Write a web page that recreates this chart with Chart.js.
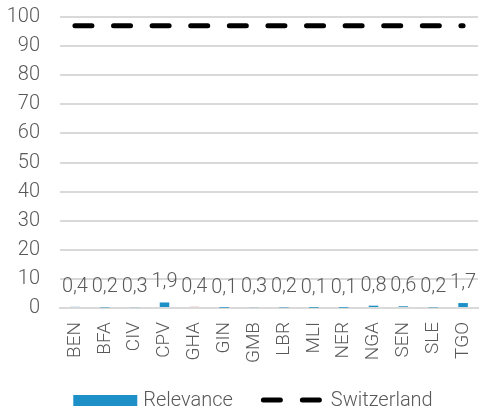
<!DOCTYPE html>
<html>
<head>
<meta charset="utf-8">
<script src="https://cdn.jsdelivr.net/npm/chart.js@4"></script>
<style>
  html, body { margin: 0; padding: 0; background: #fff; }
  #wrap { width: 479px; height: 411px; }
</style>
</head>
<body>
<div id="wrap"><canvas id="myChart" width="479" height="411"></canvas></div>
<script>
const countries = ['BEN', 'BFA', 'CIV', 'CPV', 'GHA', 'GIN', 'GMB', 'LBR', 'MLI', 'NER', 'NGA', 'SEN', 'SLE', 'TGO'];
const relevance = [0.4, 0.2, 0.3, 1.9, 0.4, 0.1, 0.3, 0.2, 0.1, 0.1, 0.8, 0.6, 0.2, 1.7];
const switzerland = [97, 97, 97, 97, 97, 97, 97, 97, 97, 97, 97, 97, 97, 97];
const yTicks = [0, 10, 20, 30, 40, 50, 60, 70, 80, 90, 100];
const highlight = 'GHA';

const blue = '#1e90c8';
const red = '#d6504a';
const textGrey = '#595959';
const fontFam = 'Roboto, "Liberation Sans", sans-serif';
const dash = [17, 21.6];

// labels over the bars, comma as decimal sign
const barLabels = {
    id: 'barLabels',
    afterDatasetsDraw(chart) {
        const ctx = chart.ctx;
        const meta = chart.getDatasetMeta(0);
        ctx.save();
        ctx.font = '300 20px ' + fontFam;
        ctx.fillStyle = textGrey;
        ctx.textAlign = 'center';
        ctx.textBaseline = 'alphabetic';
        meta.data.forEach((el, i) => {
            const txt = relevance[i].toFixed(1).replace('.', ',');
            ctx.fillText(txt, el.x, el.y - 15);
        });
        ctx.restore();
    }
};

// legend drawn by hand: box for bars, dashed line for the line
const bottomLegend = {
    id: 'bottomLegend',
    afterDraw(chart) {
        const ctx = chart.ctx;
        const ds = chart.data.datasets;
        const y = 401;
        ctx.save();
        ctx.font = '300 20px ' + fontFam;
        ctx.fillStyle = textGrey;
        ctx.textBaseline = 'middle';
        const w1 = 64 + 6 + ctx.measureText(ds[0].label).width;
        const w2 = 61 + 9 + ctx.measureText(ds[1].label).width;
        const gap = 28;
        let x = 253 - (w1 + gap + w2) / 2;
        ctx.fillStyle = blue;
        ctx.fillRect(x, y - 6, 64, 11);
        ctx.fillStyle = textGrey;
        ctx.fillText(ds[0].label, x + 70, y);
        x += w1 + gap;
        ctx.strokeStyle = '#000';
        ctx.lineWidth = 5;
        ctx.lineCap = 'round';
        ctx.setLineDash([17, 22]);
        ctx.beginPath();
        ctx.moveTo(x + 2.5, y - 1);
        ctx.lineTo(x + 61, y - 1);
        ctx.stroke();
        ctx.fillText(ds[1].label, x + 70, y);
        ctx.restore();
    }
};

const ctx = document.getElementById('myChart').getContext('2d');
const myChart = new Chart(ctx, {
    type: 'bar',
    data: {
        labels: countries,
        datasets: [{
            type: 'bar',
            label: 'Relevance',
            data: relevance,
            backgroundColor: countries.map(c => c == highlight ? red : blue),
            barPercentage: 0.8,
            categoryPercentage: 0.4,
            order: 2
        }, {
            type: 'line',
            label: 'Switzerland',
            data: switzerland,
            borderColor: '#000',
            borderWidth: 5,
            borderDash: dash,
            borderCapStyle: 'round',
            pointRadius: 0,
            fill: false,
            order: 1
        }]
    },
    options: {
        responsive: false,
        animation: false,
        layout: { padding: { top: 17, right: 1, left: 0, bottom: 0 } },
        plugins: {
            legend: { display: false },
            tooltip: { enabled: false }
        },
        scales: {
            x: {
                grid: { display: false, drawTicks: false },
                border: { display: true, color: '#d9d9d9', width: 2 },
                ticks: {
                    color: textGrey,
                    font: { family: fontFam, size: 19, weight: 300 },
                    maxRotation: 90,
                    minRotation: 90,
                    padding: 14,
                    autoSkip: false
                },
                afterFit: s => { s.height = 103; s.paddingLeft = 0; s.paddingRight = 0; }
            },
            y: {
                min: 0,
                max: 100,
                afterBuildTicks: s => { s.ticks = yTicks.map(v => ({ value: v })); },
                grid: { color: '#d9d9d9', lineWidth: 2, drawTicks: false },
                border: { display: false },
                ticks: {
                    color: textGrey,
                    font: { family: fontFam, size: 20, weight: 300 },
                    padding: 20
                },
                afterFit: s => { s.width = 60; s.paddingTop = 0; s.paddingBottom = 0; }
            }
        }
    },
    plugins: [barLabels, bottomLegend]
});
</script>
</body>
</html>
